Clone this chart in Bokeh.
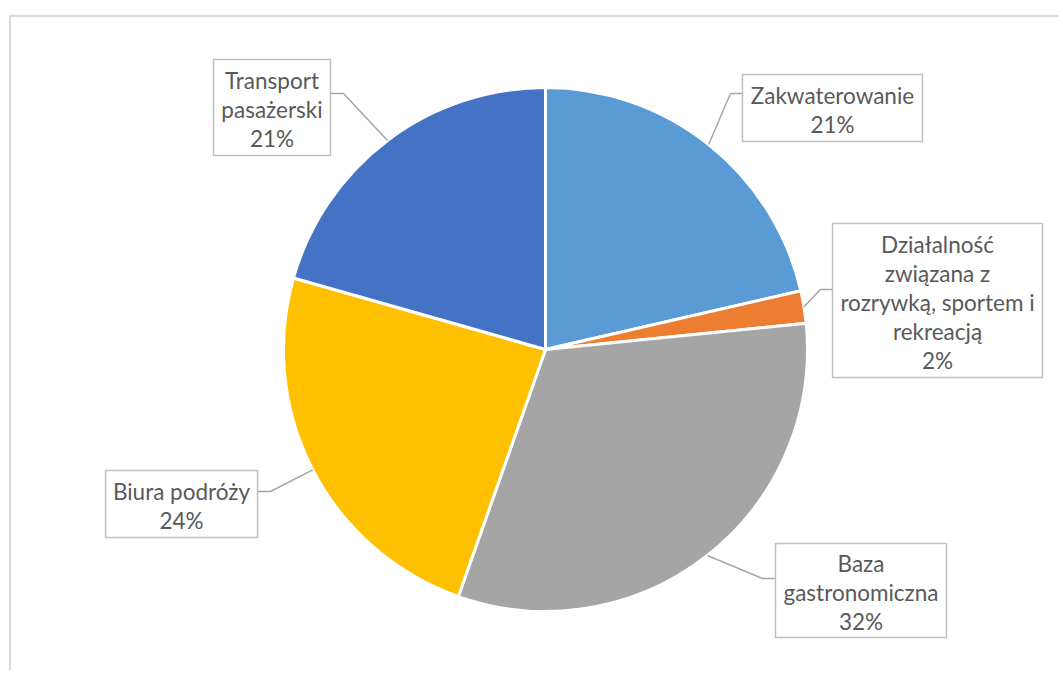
import math
import textwrap
from bokeh.plotting import figure
from bokeh.models import Range1d
from bokeh.core.properties import value
from bokeh.embed import file_html
from bokeh.resources import INLINE

# ---- data ----
categories = [
    "Zakwaterowanie",
    "Działalność związana z rozrywką, sportem i rekreacją",
    "Baza gastronomiczna",
    "Biura podróży",
    "Transport pasażerski",
]
shares = [21.4, 2.0, 32.0, 24.0, 20.6]
colors = ["#5B9BD5", "#ED7D31", "#A5A5A5", "#FFC000", "#4472C4"]

# ---- layout (page pixel coordinates) ----
W, H = 1058, 670
def px(x):
    return x
def py(y):
    return H - y

CX, CY, R = 545, 349, 262
label_boxes = [  # left, top, right, bottom
    (742, 74, 922, 141),
    (832, 223, 1042, 377),
    (775, 543, 946, 637),
    (105, 470, 257, 537),
    (213, 59, 330, 155),
]
wrap_widths = [20, 19, 14, 20, 10]
elbows = [(730, 93), (820, 289), (762, 578), (270, 491), (343, 93)]
attach = [(742, 93), (832, 289), (775, 578), (257, 491), (330, 93)]
LINE_H = 29
FONT = "Lato"
FONT_SIZE = "22.5px"
TEXT_COLOR = "#595959"

p = figure(width=W, height=H, output_backend="svg", toolbar_location=None,
           x_range=Range1d(0, W), y_range=Range1d(0, H),
           x_axis_location=None, y_axis_location=None, min_border=0)
p.grid.visible = False
p.outline_line_color = None
p.background_fill_color = "white"
p.border_fill_color = "white"

# chart area border (left + top visible)
p.line([px(9.5), px(9.5), W + 20], [-20, py(15.5), py(15.5)],
       line_color="#D9D9D9", line_width=2)

# pie slices
total = sum(shares)
starts, ends, mids = [], [], []
cum = 0.0
for v in shares:
    a0 = math.pi / 2 - 2 * math.pi * cum / total
    cum += v
    a1 = math.pi / 2 - 2 * math.pi * cum / total
    starts.append(a0)
    ends.append(a1)
    mids.append((a0 + a1) / 2)

p.wedge(x=px(CX), y=py(CY), radius=R, start_angle=starts, end_angle=ends,
        direction="clock", fill_color=colors, line_color="white", line_width=3)

# leader lines
xs, ys = [], []
for m, (ex, ey), (bx, by) in zip(mids, elbows, attach):
    sx = px(CX) + R * math.cos(m)
    sy = py(CY) + R * math.sin(m)
    xs.append([sx, px(ex), px(bx)])
    ys.append([sy, py(ey), py(by)])
p.multi_line(xs, ys, line_color="#A6A6A6", line_width=1.5)

# label boxes
p.quad(left=[px(b[0]) for b in label_boxes], right=[px(b[2]) for b in label_boxes],
       top=[py(b[1]) for b in label_boxes], bottom=[py(b[3]) for b in label_boxes],
       fill_color="white", line_color="#BFBFBF", line_width=1.5)

# label texts
tx, ty, tt = [], [], []
for cat, v, wdt, b in zip(categories, shares, wrap_widths, label_boxes):
    lines = textwrap.wrap(cat, wdt) + [f"{round(v)}%"]
    cxb = (b[0] + b[2]) / 2
    cyb = (b[1] + b[3]) / 2 + 2
    n = len(lines)
    for i, ln in enumerate(lines):
        tx.append(px(cxb))
        ty.append(py(cyb + (i - (n - 1) / 2) * LINE_H))
        tt.append(ln)
p.text(x=tx, y=ty, text=tt, text_align="center", text_baseline="middle",
       text_font=value(FONT), text_font_size=FONT_SIZE, text_color=TEXT_COLOR)

open("out.html", "w").write(file_html(p, INLINE))
